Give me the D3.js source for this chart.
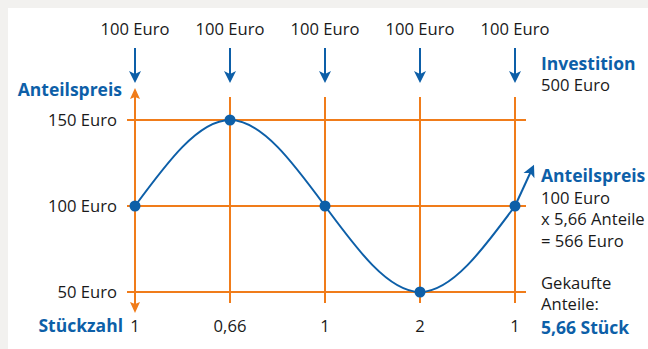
<!doctype html>
<html>
<head>
<meta charset="UTF-8">
<title>Cost-Average-Effekt</title>
<script src="https://d3js.org/d3.v7.min.js"></script>
<style>
  body { margin: 0; background: #f2f1ef; }
  svg text { font-family: "Open Sans", sans-serif; font-size: 16.6px; fill: #1a1a1a; }
  svg text.blue { fill: #0d5fa8; font-weight: bold; font-size: 17.5px; }
</style>
</head>
<body>
<svg width="648" height="349"></svg>
<script>
// monthly rate, share price and shares bought per period
var periods = [0, 1, 2, 3, 4];
var investments = [100, 100, 100, 100, 100];
var prices = [100, 150, 100, 50, 100];
var shares = ["1", "0,66", "1", "2", "1"];
var priceTicks = [50, 100, 150];
var trendTail = [4.2, 124]; // where the arrow of the price line points to

var blue = "#0d5fa8", orange = "#f07c1a";

var svg = d3.select("svg");
svg.append("rect").attr("width", 648).attr("height", 349).attr("fill", "#f2f1ef");
svg.append("rect").attr("x", 8).attr("y", 8).attr("width", 640).attr("height", 341).attr("fill", "#fff");

var x = d3.scalePoint().domain(periods).range([135, 515]);
var y = d3.scaleLinear().domain([50, 150]).range([292, 120]);

// horizontal grid
svg.selectAll("line.h").data(priceTicks).enter().append("line")
  .attr("x1", 127).attr("x2", 526)
  .attr("y1", function(d){ return y(d); }).attr("y2", function(d){ return y(d); })
  .attr("stroke", orange).attr("stroke-width", 2);

// vertical grid (first one is the axis)
svg.selectAll("line.v").data(periods).enter().append("line")
  .attr("x1", function(d){ return x(d); }).attr("x2", function(d){ return x(d); })
  .attr("y1", function(d){ return d === 0 ? 96 : 97; })
  .attr("y2", function(d){ return d === 0 ? 305 : 303; })
  .attr("stroke", orange).attr("stroke-width", 2);

// axis arrowheads
svg.append("path").attr("d", "M0,-10 L5,1 L0,-1 L-5,1 Z")
  .attr("transform", "translate(" + x(0) + ",98)").attr("fill", orange);
svg.append("path").attr("d", "M0,10 L5,-1 L0,1 L-5,-1 Z")
  .attr("transform", "translate(" + x(0) + ",303)").attr("fill", orange);

// monthly investment arrows
var inv = svg.selectAll("g.inv").data(investments).enter().append("g")
  .attr("transform", function(d, i){ return "translate(" + x(periods[i]) + ",0)"; });
inv.append("line").attr("y1", 48).attr("y2", 76).attr("stroke", blue).attr("stroke-width", 2);
inv.append("path").attr("d", "M0,83 L-6,71 L0,74 L6,71 Z").attr("fill", blue);
inv.append("text").attr("y", 35).attr("text-anchor", "middle")
  .text(function(d){ return d + " Euro"; });

// y labels
svg.selectAll("text.yl").data(priceTicks).enter().append("text")
  .attr("x", 117).attr("y", function(d){ return y(d); }).attr("dy", "0.36em")
  .attr("text-anchor", "end").text(function(d){ return d + " Euro"; });

svg.append("text").attr("class", "blue").attr("x", 122).attr("y", 96)
  .attr("text-anchor", "end").text("Anteilspreis");

// shares per period
svg.selectAll("text.sh").data(shares).enter().append("text")
  .attr("x", function(d, i){ return x(periods[i]); }).attr("y", 332)
  .attr("text-anchor", "middle").text(function(d){ return d; });
svg.append("text").attr("class", "blue").attr("x", 123).attr("y", 332)
  .attr("text-anchor", "end").text("Stückzahl");

// price curve
var pts = prices.map(function(p, i){ return [x(periods[i]), y(p)]; });
svg.append("path").attr("d", d3.line().curve(d3.curveNatural)(pts))
  .attr("fill", "none").attr("stroke", blue).attr("stroke-width", 2);

var step = x.step();
var tip = [x(0) + trendTail[0] * step, y(trendTail[1])];
var last = pts[pts.length - 1];
var ang = Math.atan2(tip[1] - last[1], tip[0] - last[0]);
var shaftEnd = [tip[0] - 8 * Math.cos(ang), tip[1] - 8 * Math.sin(ang)];
svg.append("line").attr("x1", last[0]).attr("y1", last[1])
  .attr("x2", shaftEnd[0]).attr("y2", shaftEnd[1])
  .attr("stroke", blue).attr("stroke-width", 2);
svg.append("path").attr("d", "M0,0 L-12,-6 L-9,0 L-12,6 Z")
  .attr("transform", "translate(" + tip[0] + "," + tip[1] + ") rotate(" + (ang * 180 / Math.PI) + ")")
  .attr("fill", blue);

svg.selectAll("circle").data(pts).enter().append("circle")
  .attr("cx", function(d){ return d[0]; }).attr("cy", function(d){ return d[1]; })
  .attr("r", 5.5).attr("fill", blue);

// right hand notes
var notes = [
  {t: "Investition", y: 70, b: true},
  {t: d3.sum(investments) + " Euro", y: 91},
  {t: "Anteilspreis", y: 182, b: true},
  {t: "100 Euro", y: 204},
  {t: "x 5,66 Anteile", y: 225},
  {t: "= 566 Euro", y: 247},
  {t: "Gekaufte", y: 289},
  {t: "Anteile:", y: 310},
  {t: "5,66 Stück", y: 334, b: true}
];
svg.selectAll("text.note").data(notes).enter().append("text")
  .attr("class", function(d){ return d.b ? "blue" : null; })
  .attr("x", 541).attr("y", function(d){ return d.y; })
  .text(function(d){ return d.t; });
</script>
</body>
</html>
